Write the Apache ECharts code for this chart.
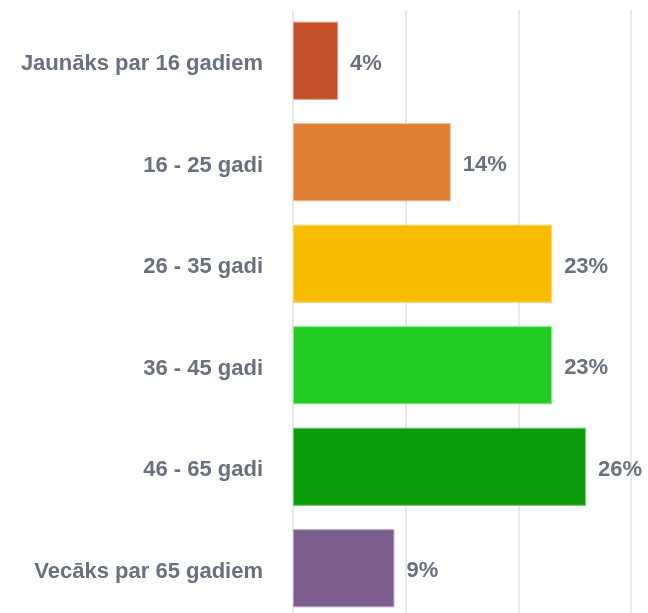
<!DOCTYPE html>
<html>
<head>
<meta charset="utf-8">
<script src="https://cdn.jsdelivr.net/npm/echarts@6/dist/echarts.min.js"></script>
<style>
  html, body { margin: 0; padding: 0; background: #fff; overflow: hidden; }
  #chart { width: 648px; height: 620px; }
</style>
</head>
<body>
<div id="chart"></div>
<script>
var categories = ['Jaunāks par 16 gadiem', '16 - 25 gadi', '26 - 35 gadi', '36 - 45 gadi', '46 - 65 gadi', 'Vecāks par 65 gadiem']
var values = [4, 14, 23, 23, 26, 9]
var colors = ['#c4512a', '#e07e35', '#f8bd00', '#22cc22', '#0b9b0b', '#7b5d8e']
var borders = ['#dd9a80', '#edb78e', '#fbd86a', '#8fe58f', '#6fc56f', '#b3a2bd']

var textColor = '#69717f'
var font = 'Liberation Sans, Arial, sans-serif'

// the chart is a little taller than the window, the bottom is cut off as in the reference
var chart = echarts.init(document.getElementById('chart'))
chart.setOption({
    animation: false,
    grid: {
        left: 293,
        right: 17,
        top: 10,
        bottom: 1
    },
    xAxis: {
        type: 'value',
        min: 0,
        max: 30,
        interval: 10,
        axisLabel: { show: false },
        axisLine: { show: false },
        axisTick: { show: false },
        splitLine: { lineStyle: { color: '#e8e8e8', width: 2 } }
    },
    yAxis: {
        type: 'category',
        inverse: true,
        data: categories,
        axisLine: { show: false },
        axisTick: { show: false },
        axisLabel: {
            margin: 30,
            formatter: function (v) { return '{a|' + v + '}' },
            rich: {
                a: {
                    padding: [7, 0, 0, 0],
                    color: textColor,
                    fontFamily: font,
                    fontWeight: 'bold',
                    fontSize: 22
                }
            }
        }
    },
    series: [{
        type: 'bar',
        barCategoryGap: '23%',
        data: values.map(function (v, i) {
            return {
                value: v,
                itemStyle: { color: colors[i], borderColor: borders[i], borderWidth: 1 }
            }
        }),
        label: {
            show: true,
            position: 'right',
            distance: 12,
            offset: [0, 3],
            formatter: '{c}%',
            color: textColor,
            fontFamily: font,
            fontWeight: 'bold',
            fontSize: 22
        }
    }]
})
</script>
</body>
</html>
